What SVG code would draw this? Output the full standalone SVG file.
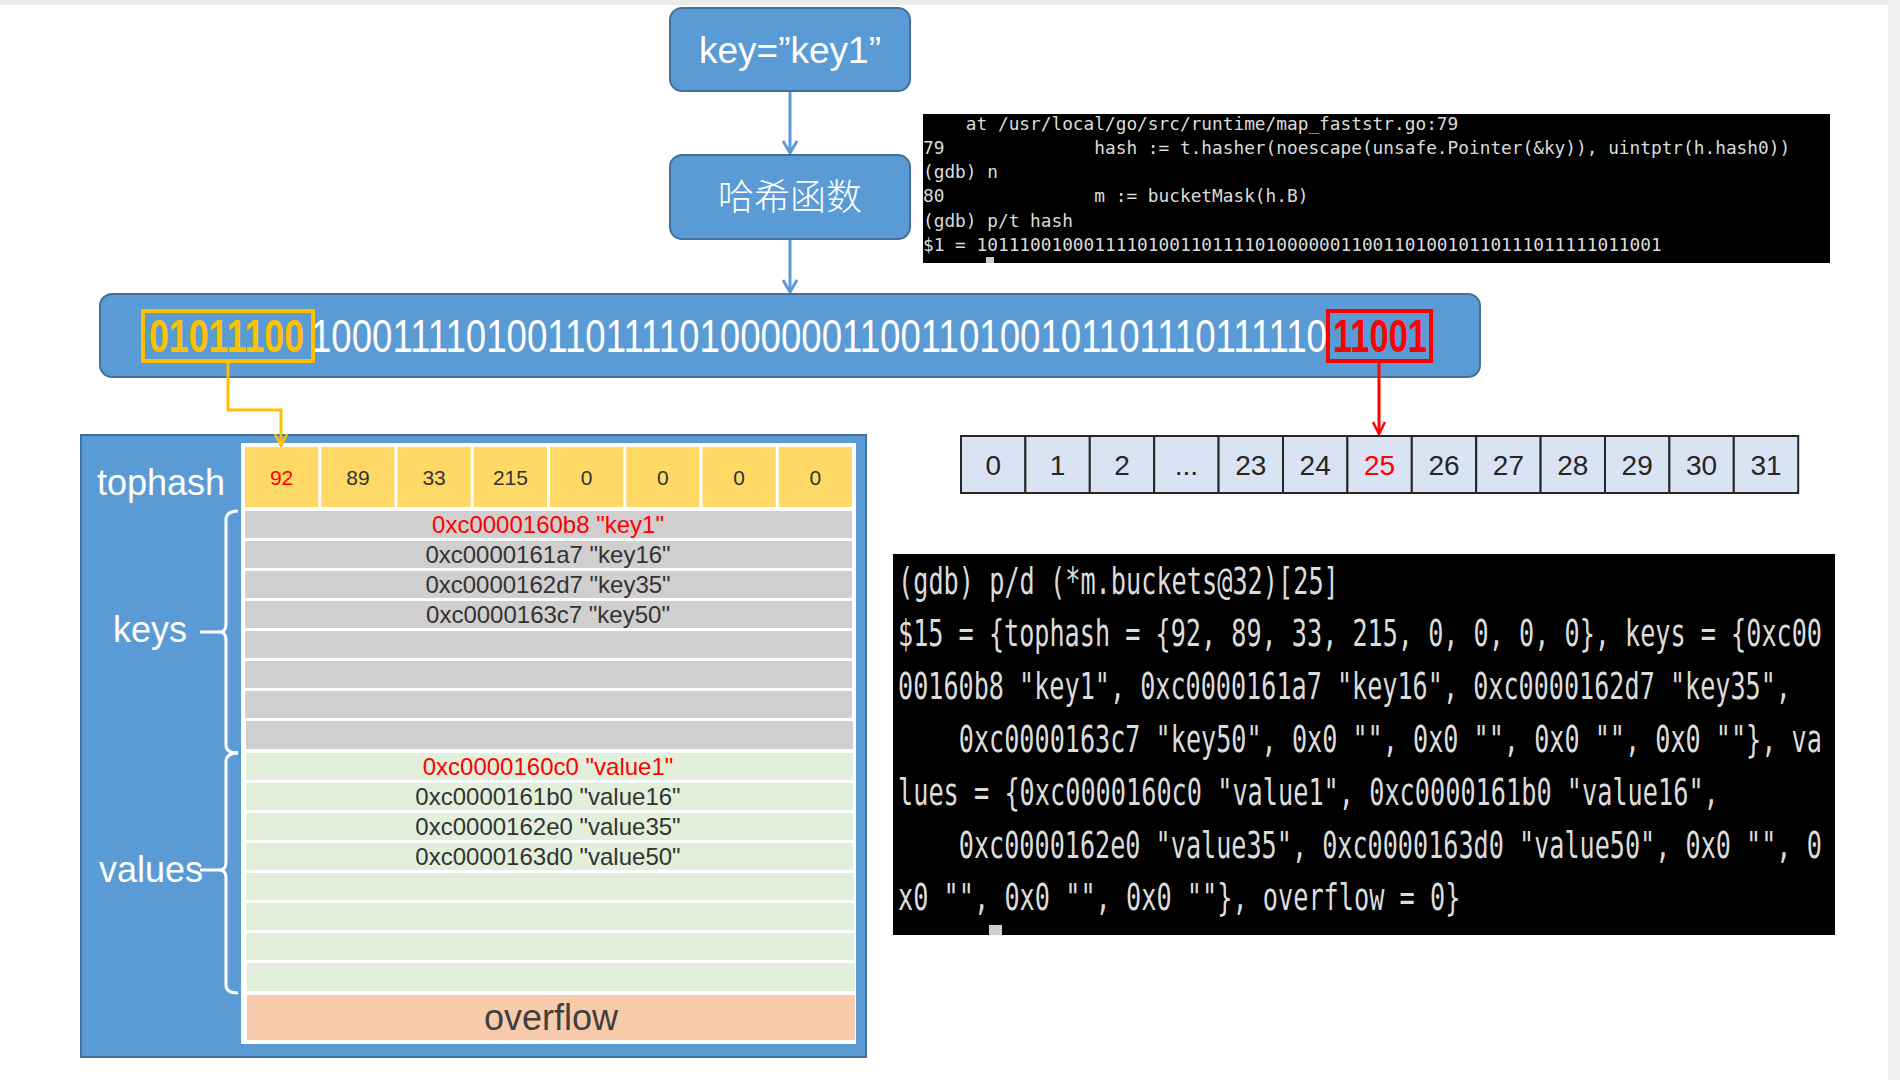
<svg xmlns="http://www.w3.org/2000/svg" width="1900" height="1080" viewBox="0 0 1900 1080">
<defs>
<style>
.blue{fill:#5b9bd5;stroke:#41719c;stroke-width:2}
.sans{font-family:"Liberation Sans",Arial,sans-serif}
.wt{fill:#ffffff}
.term{font-family:"DejaVu Sans Mono","Liberation Mono",monospace;fill:#dcdcdc;white-space:pre}
.ty{fill:#ffd966}
.tk{fill:#d0cece}
.tv{fill:#e2efda}
.rowt{font-family:"Liberation Sans",Arial,sans-serif;font-size:24px;fill:#333333;text-anchor:middle}
.tht{font-family:"Liberation Sans",Arial,sans-serif;font-size:21px;fill:#333333;text-anchor:middle}
.bkt{font-family:"Liberation Sans",Arial,sans-serif;font-size:28px;fill:#262626;text-anchor:middle}
.red{fill:#ff0000}
.bk{fill:#dae3f3;stroke:#262626;stroke-width:2}
.brace{fill:none;stroke:#ffffff;stroke-width:3}
.conn{fill:none;stroke-width:3}
</style>
<marker id="ahBlue" viewBox="0 0 14 16" refX="13" refY="8" markerWidth="14" markerHeight="16" markerUnits="userSpaceOnUse" orient="auto">
<path d="M1,1 L13,8 L1,15" fill="none" stroke="#5b9bd5" stroke-width="3"/>
</marker>
<marker id="ahYellow" viewBox="0 0 14 14" refX="13" refY="7" markerWidth="14" markerHeight="14" markerUnits="userSpaceOnUse" orient="auto">
<path d="M1,1 L13,7 L1,13" fill="none" stroke="#ffc000" stroke-width="2.5"/>
</marker>
<marker id="ahRed" viewBox="0 0 14 14" refX="13" refY="7" markerWidth="14" markerHeight="14" markerUnits="userSpaceOnUse" orient="auto">
<path d="M1,1 L13,7 L1,13" fill="none" stroke="#ff0000" stroke-width="2.5"/>
</marker>
</defs>

<rect x="0" y="0" width="1900" height="1080" fill="#ffffff"/>
<rect x="0" y="0" width="1900" height="5" fill="#ebebeb"/>
<rect x="1888" y="0" width="12" height="1080" fill="#f0f0f2"/>

<g id="node-key">
<rect class="blue" x="670" y="8" width="240" height="83" rx="12"/>
<text class="sans wt" x="790" y="63" font-size="37" text-anchor="middle">key=”key1”</text>
</g>

<g id="node-hashfunc">
<rect class="blue" x="670" y="155" width="240" height="84" rx="12"/>
<text x="790" y="210" font-size="36" text-anchor="middle" fill="#ffffff" font-family="'Noto Sans CJK SC',sans-serif" font-weight="300">哈希函数</text>
</g>

<g id="node-hashbits">
<rect class="blue" x="100" y="294" width="1380" height="83" rx="12"/>
<text class="sans" x="149" y="352" font-size="46" font-weight="bold" fill="#ffc000" textLength="155" lengthAdjust="spacingAndGlyphs">01011100</text>
<text class="sans wt" x="311" y="352" font-size="46" textLength="1016" lengthAdjust="spacingAndGlyphs">1000111101001101111010000001100110100101101110111110</text>
<text class="sans" x="1333" y="352" font-size="46" font-weight="bold" fill="#ff0000" textLength="94" lengthAdjust="spacingAndGlyphs">11001</text>
<rect x="143" y="311" width="170" height="50" fill="none" stroke="#ffc000" stroke-width="4"/>
<rect x="1328" y="311" width="103" height="50" fill="none" stroke="#ff0000" stroke-width="4"/>
</g>

<g id="node-gdb-hash">
<rect x="923" y="114" width="907" height="149" fill="#000000"/>
<text class="term" x="923" y="130" font-size="17.8">    at /usr/local/go/src/runtime/map_faststr.go:79</text>
<text class="term" x="923" y="154" font-size="17.8">79              hash := t.hasher(noescape(unsafe.Pointer(&amp;ky)), uintptr(h.hash0))</text>
<text class="term" x="923" y="178" font-size="17.8">(gdb) n</text>
<text class="term" x="923" y="202" font-size="17.8">80              m := bucketMask(h.B)</text>
<text class="term" x="923" y="227" font-size="17.8">(gdb) p/t hash</text>
<text class="term" x="923" y="251" font-size="17.8">$1 = 1011100100011110100110111101000000110011010010110111011111011001</text>
<rect x="986" y="257" width="8" height="6" fill="#cfcfcf"/>
</g>

<g id="node-buckets">
<rect class="bk" x="961" y="436" width="64.4" height="57"/>
<rect class="bk" x="1025.4" y="436" width="64.4" height="57"/>
<rect class="bk" x="1089.8" y="436" width="64.4" height="57"/>
<rect class="bk" x="1154.2" y="436" width="64.4" height="57"/>
<rect class="bk" x="1218.6" y="436" width="64.4" height="57"/>
<rect class="bk" x="1283" y="436" width="64.4" height="57"/>
<rect class="bk" x="1347.4" y="436" width="64.4" height="57"/>
<rect class="bk" x="1411.8" y="436" width="64.4" height="57"/>
<rect class="bk" x="1476.2" y="436" width="64.4" height="57"/>
<rect class="bk" x="1540.6" y="436" width="64.4" height="57"/>
<rect class="bk" x="1605" y="436" width="64.4" height="57"/>
<rect class="bk" x="1669.4" y="436" width="64.4" height="57"/>
<rect class="bk" x="1733.8" y="436" width="64.4" height="57"/>
<text class="bkt" x="993.2" y="475">0</text>
<text class="bkt" x="1057.6" y="475">1</text>
<text class="bkt" x="1122" y="475">2</text>
<text class="bkt" x="1186.4" y="475">...</text>
<text class="bkt" x="1250.8" y="475">23</text>
<text class="bkt" x="1315.2" y="475">24</text>
<text class="bkt red" x="1379.6" y="475">25</text>
<text class="bkt" x="1444" y="475">26</text>
<text class="bkt" x="1508.4" y="475">27</text>
<text class="bkt" x="1572.8" y="475">28</text>
<text class="bkt" x="1637.2" y="475">29</text>
<text class="bkt" x="1701.6" y="475">30</text>
<text class="bkt" x="1766" y="475">31</text>
</g>

<g id="node-bucket-struct">
<rect class="blue" x="81" y="435" width="785" height="622"/>
<rect x="241" y="443" width="615" height="601" fill="#ffffff"/>
<text class="sans wt" x="97" y="495" font-size="36">tophash</text>
<text class="sans wt" x="113" y="642" font-size="36">keys</text>
<text class="sans wt" x="99" y="882" font-size="36">values</text>
<path class="brace" d="M238,511 Q226,511 226,520 V624 Q226,632 220,632 Q226,632 226,640 V745 Q226,753 238,753"/>
<path class="brace" d="M238,753 Q226,753 226,762 V862 Q226,870 220,870 Q226,870 226,878 V985 Q226,993 238,993"/>
<line x1="200" y1="632" x2="221" y2="632" stroke="#ffffff" stroke-width="3"/>
<line x1="200" y1="870" x2="221" y2="870" stroke="#ffffff" stroke-width="3"/>
<rect class="ty" x="245" y="447" width="73.25" height="60"/>
<rect class="ty" x="321.25" y="447" width="73.25" height="60"/>
<rect class="ty" x="397.5" y="447" width="73.25" height="60"/>
<rect class="ty" x="473.75" y="447" width="73.25" height="60"/>
<rect class="ty" x="550" y="447" width="73.25" height="60"/>
<rect class="ty" x="626.25" y="447" width="73.25" height="60"/>
<rect class="ty" x="702.5" y="447" width="73.25" height="60"/>
<rect class="ty" x="778.75" y="447" width="73.25" height="60"/>
<text class="tht red" x="281.6" y="485">92</text>
<text class="tht" x="357.9" y="485">89</text>
<text class="tht" x="434.1" y="485">33</text>
<text class="tht" x="510.4" y="485">215</text>
<text class="tht" x="586.6" y="485">0</text>
<text class="tht" x="662.9" y="485">0</text>
<text class="tht" x="739.1" y="485">0</text>
<text class="tht" x="815.4" y="485">0</text>
<rect class="tk" x="245" y="511" width="607" height="27"/>
<rect class="tk" x="245" y="541" width="607" height="27"/>
<rect class="tk" x="245" y="571" width="607" height="27"/>
<rect class="tk" x="245" y="601" width="607" height="27"/>
<rect class="tk" x="245" y="631" width="607" height="27"/>
<rect class="tk" x="245" y="661" width="607" height="27"/>
<rect class="tk" x="245" y="691" width="607" height="27"/>
<rect class="tk" x="246" y="721" width="607" height="28"/>
<text class="rowt red" x="548" y="533">0xc0000160b8 "key1"</text>
<text class="rowt" x="548" y="563">0xc0000161a7 "key16"</text>
<text class="rowt" x="548" y="593">0xc0000162d7 "key35"</text>
<text class="rowt" x="548" y="623">0xc0000163c7 "key50"</text>
<rect class="tv" x="246" y="753" width="607" height="27"/>
<rect class="tv" x="246" y="783" width="607" height="27"/>
<rect class="tv" x="246" y="813" width="607" height="27"/>
<rect class="tv" x="246" y="843" width="607" height="27"/>
<rect class="tv" x="246" y="873" width="608" height="27"/>
<rect class="tv" x="246" y="903" width="608" height="27"/>
<rect class="tv" x="246" y="933" width="608" height="27"/>
<rect class="tv" x="247" y="963" width="608" height="28"/>
<text class="rowt red" x="548" y="775">0xc0000160c0 "value1"</text>
<text class="rowt" x="548" y="805">0xc0000161b0 "value16"</text>
<text class="rowt" x="548" y="835">0xc0000162e0 "value35"</text>
<text class="rowt" x="548" y="865">0xc0000163d0 "value50"</text>
<rect x="247" y="995" width="608" height="45" fill="#f8cbad"/>
<text class="sans" x="551" y="1030" font-size="36" fill="#404040" text-anchor="middle">overflow</text>
</g>

<g id="node-gdb-bucket">
<rect x="893" y="554" width="942" height="381" fill="#000000"/>
<text class="term" x="898" y="594" font-size="38" textLength="440.8" lengthAdjust="spacingAndGlyphs">(gdb) p/d (*m.buckets@32)[25]</text>
<text class="term" x="898" y="646" font-size="38" textLength="924" lengthAdjust="spacingAndGlyphs">$15 = {tophash = {92, 89, 33, 215, 0, 0, 0, 0}, keys = {0xc00</text>
<text class="term" x="898" y="699" font-size="38" textLength="893" lengthAdjust="spacingAndGlyphs">00160b8 "key1", 0xc0000161a7 "key16", 0xc0000162d7 "key35",</text>
<text class="term" x="958.8" y="752" font-size="38" textLength="863" lengthAdjust="spacingAndGlyphs">0xc0000163c7 "key50", 0x0 "", 0x0 "", 0x0 "", 0x0 ""}, va</text>
<text class="term" x="898" y="805" font-size="38" textLength="820.8" lengthAdjust="spacingAndGlyphs">lues = {0xc0000160c0 "value1", 0xc0000161b0 "value16",</text>
<text class="term" x="958.8" y="858" font-size="38" textLength="863" lengthAdjust="spacingAndGlyphs">0xc0000162e0 "value35", 0xc0000163d0 "value50", 0x0 "", 0</text>
<text class="term" x="898" y="910" font-size="38" textLength="562.4" lengthAdjust="spacingAndGlyphs">x0 "", 0x0 "", 0x0 ""}, overflow = 0}</text>
<rect x="989" y="925" width="13" height="10" fill="#cfcfcf"/>
</g>

<g id="connectors">
<line class="conn" x1="790" y1="92" x2="790" y2="153" stroke="#5b9bd5" marker-end="url(#ahBlue)"/>
<line class="conn" x1="790" y1="240" x2="790" y2="292" stroke="#5b9bd5" marker-end="url(#ahBlue)"/>
<path class="conn" d="M228,363 V410 H281 V446" stroke="#ffc000" stroke-width="2.5" marker-end="url(#ahYellow)"/>
<path class="conn" d="M1379,363 V434" stroke="#ff0000" stroke-width="2.5" marker-end="url(#ahRed)"/>
</g>
</svg>
